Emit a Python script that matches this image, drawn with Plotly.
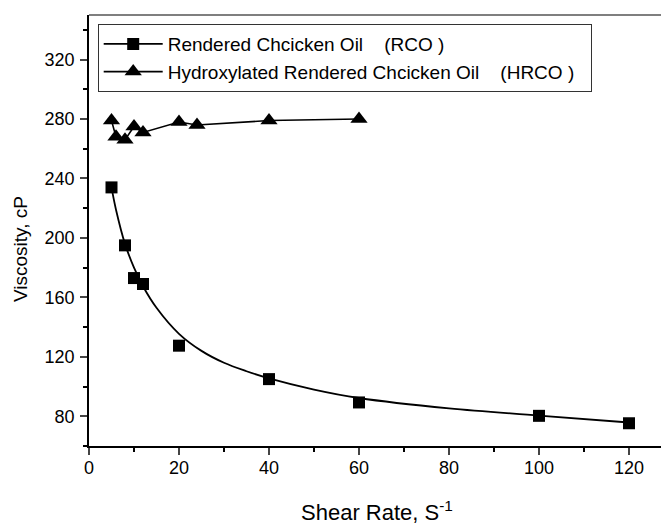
import plotly.graph_objects as go

# RCO measured data
rco_x = [5, 8, 10, 12, 20, 40, 60, 100, 120]
rco_y = [234, 195, 173, 169, 127.5, 105, 89.3, 80.3, 75.3]

# RCO fitted curve
fit_x = [5, 6, 8, 10, 12, 15, 20, 25, 30, 35, 40, 50, 60, 80, 100, 120]
fit_y = [234, 219, 196, 180, 167.5, 153, 135.5, 124, 116, 110.3, 105.5, 98, 92.3, 85.3, 80.5, 75.8]

# HRCO data
hrco_x = [5, 6, 8, 10, 12, 20, 24, 40, 60]
hrco_y = [279, 268, 266, 275, 271, 278, 276, 279, 280]

NB = "\u00a0"
name_rco = "Rendered Chcicken Oil" + NB * 4 + "(RCO" + NB + ")"
name_hrco = "Hydroxylated Rendered Chcicken Oil" + NB * 4 + "(HRCO" + NB + ")" + NB * 2

FONT = "Arial, Liberation Sans, sans-serif"

W = 680  # figure runs past the 661 px window, as the reference is cropped on the right
PLOT_W = W - 89

fig = go.Figure()
fig.add_trace(go.Scatter(x=fit_x, y=fit_y, mode="lines", line=dict(color="black", width=1.8, shape="spline"),
                         showlegend=False, hoverinfo="skip"))
fig.add_trace(go.Scatter(x=rco_x, y=rco_y, mode="markers",
                         marker=dict(symbol="square", size=12, color="black"), showlegend=False))
fig.add_trace(go.Scatter(x=hrco_x, y=hrco_y, mode="lines+markers", line=dict(color="black", width=1.6),
                         marker=dict(symbol="triangle-up", size=15, color="black"), showlegend=False))
# legend entries
fig.add_trace(go.Scatter(x=[None], y=[None], mode="lines+markers", name=name_rco,
                         line=dict(color="black", width=1.6), marker=dict(symbol="square", size=12, color="black")))
fig.add_trace(go.Scatter(x=[None], y=[None], mode="lines+markers", name=name_hrco,
                         line=dict(color="black", width=1.6), marker=dict(symbol="triangle-up", size=15, color="black")))

fig.update_layout(
    width=W, height=524,
    margin=dict(l=89, r=0, t=15, b=78),
    paper_bgcolor="white", plot_bgcolor="white",
    font=dict(family=FONT, color="black"),
    showlegend=True,
    hovermode=False,
    legend=dict(x=8.7 / PLOT_W, y=0.979, xanchor="left", yanchor="top",
                bordercolor="#333", borderwidth=1, bgcolor="white",
                font=dict(size=19, family=FONT), itemwidth=59, tracegroupgap=0),
    xaxis=dict(range=[0, PLOT_W / 4.5], tick0=0, dtick=20, ticks="outside", ticklen=7, tickwidth=1.5,
               showline=True, linecolor="black", linewidth=1.5, showgrid=False, zeroline=False,
               tickfont=dict(size=18), ticklabelstandoff=-2,
               minor=dict(ticks="outside", ticklen=4, dtick=10, tickwidth=1.5, tickcolor="black",
                          showgrid=False)),
    yaxis=dict(range=[60, 350], tick0=80, dtick=40, ticks="outside", ticklen=7, tickwidth=1.5,
               showline=True, linecolor="black", linewidth=1.5, showgrid=False, zeroline=False,
               tickfont=dict(size=18), ticklabelstandoff=2,
               minor=dict(ticks="outside", ticklen=4, dtick=20, tickwidth=1.5, tickcolor="black",
                          showgrid=False)),
)

# top frame line
fig.add_shape(type="line", xref="paper", yref="paper", x0=0, x1=1, y0=1, y1=1,
              line=dict(color="#555", width=1.3))

fig.add_annotation(text="Viscosity, cP", xref="paper", yref="paper", x=(20 - 89) / PLOT_W, y=0.457,
                   xanchor="center", yanchor="middle", textangle=-90, showarrow=False,
                   font=dict(size=19, family=FONT))
fig.add_annotation(text="Shear Rate, S<sup>-1</sup>", xref="paper", yref="paper", x=(377 - 89) / PLOT_W, y=-0.15,
                   xanchor="center", yanchor="middle", showarrow=False,
                   font=dict(size=22, family=FONT))

fig.write_html("out.html", config={"displayModeBar": False},
               post_script="document.body.style.margin='0';document.body.style.padding='0';document.body.style.overflow='hidden';")
